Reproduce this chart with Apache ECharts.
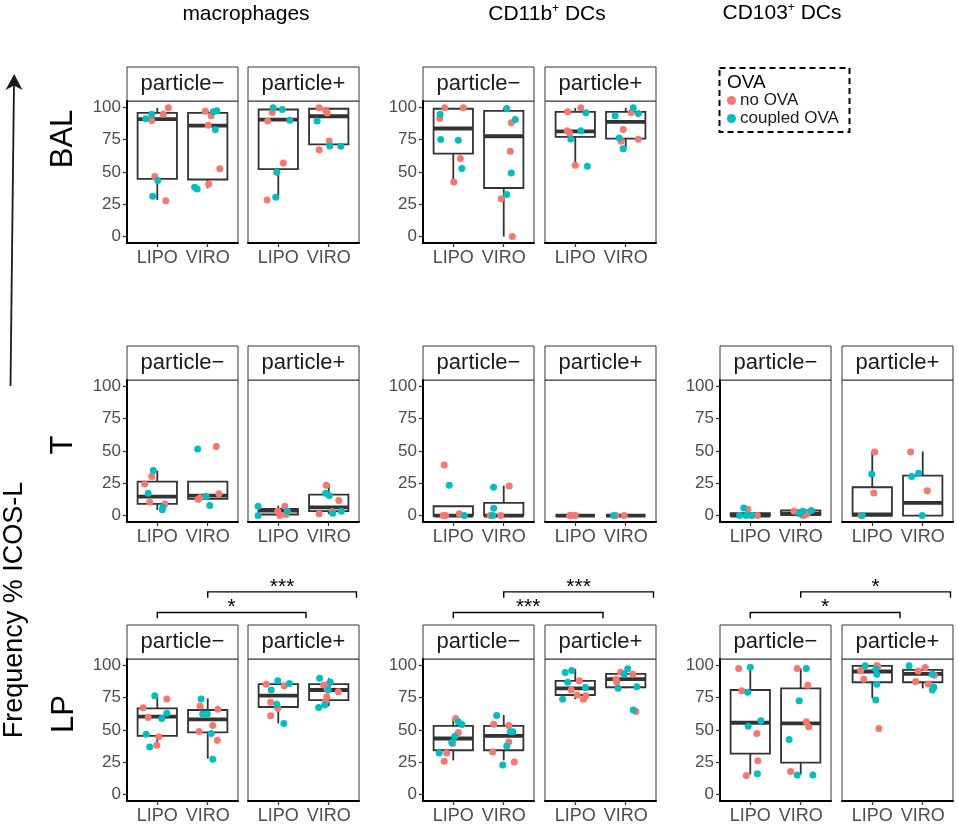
<!DOCTYPE html>
<html>
<head>
<meta charset="utf-8">
<script src="https://cdn.jsdelivr.net/npm/echarts@6/dist/echarts.min.js"></script>
<style>
  html, body { margin: 0; background: #fff; }
  #chart { width: 958px; height: 827px; }
</style>
</head>
<body>
<div id="chart"></div>
<script>
// categories / groups
const CATEGORIES = ['LIPO', 'VIRO'];
const GROUPS = ['no OVA', 'coupled OVA'];
const COLORS = ['#F8766D', '#00BFC4'];
const Y_TICKS = [0, 25, 50, 75, 100];
const STRIPS = ['particle\u2212', 'particle+'];
const ROW_LABELS = ['BAL', 'T', 'LP'];
const SIG_LABELS = [['*', '***'], ['***', '***'], ['*', '*']]; // [lower, upper] per cell type in LP

// box stats per category: [lower whisker, Q1, median, Q3, upper whisker]
// points: [x position (1 = LIPO, 2 = VIRO, jittered), value, group (0 no OVA, 1 coupled OVA)]
const BAL_MAC_NEG_BOX = [[28.3, 44.7, 91, 95.8, 99.7], [37.4, 44.2, 86, 95.8, 97.9]];
const BAL_MAC_NEG_PTS = [
  [0.77, 91.2, 1], [0.89, 94.8, 1], [0.89, 89.9, 0], [1.12, 94.8, 0], [1.22, 99.7, 0], [0.95, 46.5, 0], [1.01, 43.4, 1], [0.91, 31.2, 1], [1.17, 27.8, 0],
  [1.95, 97.1, 0], [2.11, 96.6, 1], [2.18, 97.4, 1], [2.07, 93.5, 0], [2.01, 86.2, 0], [2.15, 82.9, 1], [2.24, 52.5, 0], [2.02, 40.8, 0], [1.74, 38.2, 1], [1.79, 36.9, 1]
];
const BAL_MAC_POS_BOX = [[30.4, 52.2, 90.6, 98.4, 99.7], [71.4, 71.4, 93.2, 99, 99.7]];
const BAL_MAC_POS_PTS = [
  [0.9, 99.7, 1], [1.08, 98.4, 1], [0.88, 96.1, 0], [0.79, 89.6, 0], [1.23, 90.1, 1], [1.1, 56.9, 0], [0.97, 49.9, 1], [0.95, 30.4, 1], [0.78, 28.3, 0],
  [1.81, 99.7, 0], [1.94, 97.9, 0], [1.97, 95.8, 0], [1.77, 89.6, 1], [2.01, 74, 0], [1.81, 67.3, 0], [2.02, 70.1, 1], [2.24, 69.9, 1]
];
const BAL_CD11B_NEG_BOX = [[42.2, 64.2, 83.7, 99, 99.7], [0, 37.6, 77.7, 97.4, 99.7]];
const BAL_CD11B_NEG_PTS = [
  [0.83, 99.7, 0], [1.2, 99.7, 0], [0.74, 94.8, 1], [0.73, 91.5, 0], [0.75, 75.1, 1], [1.1, 74.6, 1], [1.14, 60.4, 0], [1.17, 52.8, 1], [1.01, 42.2, 0],
  [2.06, 99.2, 1], [2.23, 90.7, 1], [2.15, 88.1, 0], [2.13, 66.1, 0], [2.15, 49.2, 1], [2.06, 32.6, 1], [1.95, 29.3, 0], [2.17, 0, 0]
];
const BAL_CD11B_POS_BOX = [[55.2, 77.2, 81.5, 96.6, 99.7], [68.1, 75.9, 88.9, 96.6, 99.7]];
const BAL_CD11B_POS_PTS = [
  [1.11, 99.7, 0], [0.85, 96.6, 0], [1.21, 95.9, 1], [0.84, 81.9, 0], [0.89, 79.8, 0], [1.11, 81.9, 1], [0.91, 75.6, 1], [1.0, 55.2, 0], [1.24, 54.4, 1],
  [2.15, 99.7, 1], [2.11, 96.1, 0], [2.25, 95.3, 1], [1.79, 93.5, 1], [1.95, 82.9, 0], [1.87, 76.4, 1], [1.91, 73.8, 0], [2.25, 75.4, 0], [1.95, 68.1, 1]
];

const T_MAC_NEG_BOX = [[4.4, 9, 14.7, 26.3, 34.8], [12.9, 12.9, 15.5, 26.3, 26.3]];
const T_MAC_NEG_PTS = [
  [0.92, 34.8, 1], [0.89, 30.2, 0], [0.75, 24.5, 0], [0.82, 17.3, 1], [0.85, 10.3, 0], [1.15, 9, 0], [1.11, 6.4, 1], [1.1, 4.4, 1],
  [1.8, 51.5, 1], [2.17, 53.4, 0], [2.22, 16.8, 0], [1.97, 14.7, 1], [1.81, 12.6, 0], [1.85, 13.7, 0], [2.04, 7.7, 1]
];
const T_MAC_POS_BOX = [[0, 0.8, 3.9, 5.2, 7.7], [1.3, 3.4, 6.4, 16.2, 24.5]];
const T_MAC_POS_PTS = [
  [0.6, 7.2, 1], [0.99, 3.4, 0], [1.13, 7.2, 0], [1.18, 3.4, 1], [1.15, 0.8, 0], [0.6, 0, 1], [1.03, 0, 0],
  [1.95, 23.5, 0], [1.94, 17.3, 1], [2.01, 15.5, 1], [2.2, 11.6, 0], [2.07, 3.1, 0], [2.08, 1.8, 1], [1.81, 1.3, 0], [2.25, 3.4, 1]
];
const T_CD11B_NEG_BOX = [[0, 0, 0, 7.2, 7.2], [0, 0, 0, 9.8, 23.2]];
const T_CD11B_NEG_PTS = [
  [0.82, 39.2, 0], [0.92, 23.5, 1], [1.12, 1.3, 0], [0.8, 0, 0], [0.85, 0, 0], [1.22, 0, 1],
  [1.8, 21.9, 1], [2.11, 22.9, 0], [1.8, 5.7, 1], [1.78, 0, 1], [1.94, 0, 0], [1.73, 0, 0]
];
const T_CD11B_POS_BOX = [[0, 0, 0, 0, 0], [0, 0, 0, 0, 0]];
const T_CD11B_POS_PTS = [
  [0.93, 0, 0], [1.0, 0, 0], [0.89, 0, 0],
  [1.76, 0, 1], [1.81, 0, 0], [1.97, 0, 0]
];
const T_CD103_NEG_BOX = [[0, 0, 0, 1.8, 1.8], [0, 0.5, 1.3, 3.9, 3.9]];
const T_CD103_NEG_PTS = [
  [0.87, 5.9, 1], [0.95, 4.9, 0], [0.79, 0, 1], [0.92, 0, 1], [1.03, 0, 1], [1.14, 0, 0],
  [1.87, 3.4, 0], [2.04, 3.4, 1], [2.21, 3.9, 1], [1.98, 1.3, 1], [2.13, 1.3, 0], [2.04, 0, 0], [2.08, 0.5, 0]
];
const T_CD103_POS_BOX = [[0, 0, 0.8, 21.9, 50], [0, 0, 9.8, 30.9, 49.7]];
const T_CD103_POS_PTS = [
  [1.05, 49.2, 0], [0.99, 32.2, 1], [1.03, 17.5, 0], [0.78, 0, 0], [0.8, 0, 1],
  [1.76, 49.2, 0], [1.92, 32.7, 1], [1.78, 30.2, 1], [2.09, 19.3, 0], [1.99, 0, 1]
];

const LP_MAC_NEG_BOX = [[39.5, 45.5, 60.3, 66.8, 76.6], [27.8, 48.1, 58.2, 65.5, 74.5]];
const LP_MAC_NEG_PTS = [
  [0.95, 76.6, 1], [1.19, 74, 0], [0.72, 67.3, 0], [0.82, 59.7, 0], [1.19, 62.9, 1], [1.09, 59, 1], [0.78, 46.8, 1], [1.03, 44.7, 0], [0.99, 38.2, 0], [0.85, 36.9, 1],
  [1.87, 74, 1], [1.85, 68.6, 0], [1.9, 62.3, 1], [1.99, 62.3, 1], [2.2, 66, 0], [2.1, 53.5, 0], [1.83, 48.8, 0], [2.07, 47.3, 1], [2.19, 42.1, 0], [2.1, 27.3, 1]
];
const LP_MAC_POS_BOX = [[55.1, 67.8, 76.6, 85.5, 88.1], [68.6, 73.2, 81, 85.5, 90.1]];
const LP_MAC_POS_PTS = [
  [0.99, 88.1, 1], [0.76, 85.5, 0], [1.12, 84.2, 0], [1.22, 86, 1], [0.86, 81, 1], [0.85, 71.4, 0], [0.97, 69.9, 1], [0.99, 66.8, 0], [0.85, 61, 0], [1.11, 55.1, 1],
  [1.82, 90.1, 1], [1.9, 84.9, 0], [1.99, 85.5, 0], [2.03, 87, 1], [1.97, 81.8, 0], [1.99, 81, 1], [2.19, 79.7, 0], [1.96, 75.8, 0], [1.94, 72.5, 0], [1.8, 67.5, 1], [1.92, 69.4, 1]
];
const LP_CD11B_NEG_BOX = [[26.5, 34.3, 43.4, 53.2, 59], [26.5, 34.3, 45.5, 53.2, 61.6]];
const LP_CD11B_NEG_PTS = [
  [1.05, 59, 0], [1.1, 56.4, 1], [1.17, 54.3, 1], [1.1, 48.1, 0], [1.03, 45.2, 1], [0.99, 39.5, 0], [0.97, 40.3, 1], [0.72, 32.2, 1], [0.87, 32.2, 0], [0.82, 25.7, 0],
  [1.86, 61.3, 1], [1.8, 54.5, 0], [2.1, 53.5, 0], [2.13, 48.6, 1], [2.18, 48.6, 1], [2.1, 40.8, 0], [2.06, 37.7, 1], [1.78, 33, 0], [1.98, 22.9, 1], [2.21, 25.2, 0]
];
const LP_CD11B_POS_BOX = [[73.8, 77.1, 82.3, 88.1, 97.4], [82.3, 83.1, 89.4, 93.5, 98.4]];
const LP_CD11B_POS_PTS = [
  [0.8, 94.5, 1], [0.93, 96.1, 1], [0.85, 87, 1], [1.08, 88.1, 0], [0.92, 81, 0], [1.2, 82.9, 1], [1.04, 77.1, 0], [1.21, 76.6, 0], [1.16, 73.8, 0], [0.75, 73.8, 1],
  [2.04, 97.4, 1], [1.9, 94.8, 0], [2.14, 93.2, 0], [1.97, 93.2, 1], [1.81, 89.4, 0], [1.82, 87, 0], [1.85, 82.3, 1], [2.22, 83.6, 1], [2.15, 65.5, 1], [2.2, 64.4, 0]
];
const LP_CD103_NEG_BOX = [[15.6, 31.7, 55.6, 81, 99.2], [15.6, 24.7, 55.1, 82.3, 97.7]];
const LP_CD103_NEG_PTS = [
  [0.77, 97.7, 0], [1.0, 98.7, 1], [0.83, 80.5, 0], [0.95, 79.2, 1], [1.21, 57.1, 1], [0.96, 53, 1], [1.13, 47.3, 0], [1.15, 26.2, 0], [1.14, 16.1, 1], [0.92, 14.8, 0],
  [1.93, 97.7, 0], [2.11, 97.7, 1], [2.14, 84.7, 0], [1.97, 72.7, 1], [2.11, 56.4, 0], [2.16, 52.5, 0], [1.77, 42.6, 1], [1.8, 17.9, 0], [1.93, 15.1, 1], [2.24, 15.1, 1]
];
const LP_CD103_POS_BOX = [[74.5, 87, 95.3, 99.7, 99.7], [82.3, 87, 93.5, 96.6, 99.2]];
const LP_CD103_POS_PTS = [
  [0.86, 99.7, 1], [1.09, 100, 0], [1.11, 99.2, 0], [0.77, 96.1, 0], [1.07, 97.1, 1], [0.83, 89.4, 0], [1.09, 93.2, 1], [1.09, 85.5, 1], [1.07, 73.2, 1], [1.13, 51.2, 0],
  [1.73, 99.7, 1], [2.05, 98.4, 0], [1.91, 95.8, 0], [2.23, 92.5, 0], [1.86, 87.5, 0], [2.11, 85.7, 0], [2.22, 83.1, 1], [2.19, 81, 1], [2.19, 93.2, 1]
];

// [row, column, box stats, points]
const PANELS = [
  [0, 0, BAL_MAC_NEG_BOX, BAL_MAC_NEG_PTS], [0, 1, BAL_MAC_POS_BOX, BAL_MAC_POS_PTS],
  [0, 2, BAL_CD11B_NEG_BOX, BAL_CD11B_NEG_PTS], [0, 3, BAL_CD11B_POS_BOX, BAL_CD11B_POS_PTS],
  [1, 0, T_MAC_NEG_BOX, T_MAC_NEG_PTS], [1, 1, T_MAC_POS_BOX, T_MAC_POS_PTS],
  [1, 2, T_CD11B_NEG_BOX, T_CD11B_NEG_PTS], [1, 3, T_CD11B_POS_BOX, T_CD11B_POS_PTS],
  [1, 4, T_CD103_NEG_BOX, T_CD103_NEG_PTS], [1, 5, T_CD103_POS_BOX, T_CD103_POS_PTS],
  [2, 0, LP_MAC_NEG_BOX, LP_MAC_NEG_PTS], [2, 1, LP_MAC_POS_BOX, LP_MAC_POS_PTS],
  [2, 2, LP_CD11B_NEG_BOX, LP_CD11B_NEG_PTS], [2, 3, LP_CD11B_POS_BOX, LP_CD11B_POS_PTS],
  [2, 4, LP_CD103_NEG_BOX, LP_CD103_NEG_PTS], [2, 5, LP_CD103_POS_BOX, LP_CD103_POS_PTS]
];

// layout
const FONT = '"Liberation Sans", Arial, sans-serif';
const GRID_LEFT = [127, 248, 423, 545, 720, 842];
const GRID_TOP = [101, 380, 659];
const GRID_W = 111, GRID_H = 142, STRIP_H = 34;

const chart = echarts.init(document.getElementById('chart'));

function renderBox(params, api) {
  const x = api.value(0);
  const lo = api.coord([x, api.value(1)]);
  const q1 = api.coord([x, api.value(2)]);
  const med = api.coord([x, api.value(3)]);
  const q3 = api.coord([x, api.value(4)]);
  const hi = api.coord([x, api.value(5)]);
  const half = api.size([0.39, 0])[0];
  const stroke = '#333333';
  return {
    type: 'group',
    children: [
      { type: 'line', shape: { x1: hi[0], y1: hi[1], x2: q3[0], y2: q3[1] }, style: { stroke, lineWidth: 1.8 } },
      { type: 'line', shape: { x1: q1[0], y1: q1[1], x2: lo[0], y2: lo[1] }, style: { stroke, lineWidth: 1.8 } },
      { type: 'rect', shape: { x: q3[0] - half, y: q3[1], width: half * 2, height: q1[1] - q3[1] },
        style: { stroke, fill: '#fff', lineWidth: 1.8 } },
      { type: 'line', shape: { x1: med[0] - half, y1: med[1], x2: med[0] + half, y2: med[1] },
        style: { stroke, lineWidth: 3.8 } }
    ]
  };
}

const grids = [], xAxes = [], yAxes = [], series = [], graphics = [];
const tickLabel = { color: '#4D4D4D', fontFamily: FONT };

PANELS.forEach(([row, col, box, pts], i) => {
  const neg = col % 2 === 0;
  const left = GRID_LEFT[col], top = GRID_TOP[row];
  grids.push({ left, top, width: GRID_W, height: GRID_H, show: true, borderColor: '#333', borderWidth: 1 });
  xAxes.push({
    gridIndex: i, type: 'value', min: 0.4, max: 2.6,
    axisLine: { onZero: false, lineStyle: { color: '#000', width: 2 } },
    axisTick: { customValues: [1, 2], length: 4, lineStyle: { color: '#333', width: 1.2 } },
    axisLabel: { ...tickLabel, fontSize: 18, margin: 6, customValues: [1, 2], formatter: v => CATEGORIES[Math.round(v) - 1] },
    splitLine: { show: false }
  });
  yAxes.push({
    gridIndex: i, type: 'value', min: -5, max: 105,
    axisLine: { show: neg, onZero: false, lineStyle: { color: '#000', width: 2 } },
    axisTick: { show: neg, customValues: Y_TICKS, length: 4, lineStyle: { color: '#333', width: 1.2 } },
    axisLabel: { show: neg, ...tickLabel, fontSize: 17, margin: 6, customValues: Y_TICKS },
    splitLine: { show: false }
  });
  series.push({
    type: 'custom', xAxisIndex: i, yAxisIndex: i, z: 2,
    renderItem: renderBox,
    encode: { x: 0, y: [1, 2, 3, 4, 5] },
    data: box.map((b, k) => [k + 1, ...b])
  });
  GROUPS.forEach((g, gi) => {
    series.push({
      type: 'scatter', name: g, xAxisIndex: i, yAxisIndex: i, z: 3,
      symbolSize: 7, itemStyle: { color: COLORS[gi], opacity: 1 },
      data: pts.filter(p => p[2] === gi).map(p => [p[0], p[1]])
    });
  });
  // facet strip
  graphics.push({
    type: 'rect', shape: { x: left, y: top - STRIP_H, width: GRID_W, height: STRIP_H },
    style: { fill: '#fff', stroke: '#333', lineWidth: 1 }
  });
  graphics.push({
    type: 'text', x: left + GRID_W / 2, y: top - STRIP_H / 2,
    style: { text: STRIPS[neg ? 0 : 1], fontSize: 22, fontFamily: FONT, fill: '#1A1A1A', textAlign: 'center', textVerticalAlign: 'middle' }
  });
});

// column headers
const headRich = {
  a: { fontSize: 21, fontFamily: FONT, fill: '#000' },
  s: { fontSize: 12, fontFamily: FONT, fill: '#000', verticalAlign: 'top', lineHeight: 22 }
};
[['macrophages', 246, 14], ['{a|CD11b}{s|+}{a| DCs}', 547, 14], ['{a|CD103}{s|+}{a| DCs}', 782, 13]].forEach(([t, x, y]) => {
  graphics.push({
    type: 'text', x, y,
    style: { text: t.startsWith('{') ? t : '{a|' + t + '}', rich: headRich, textAlign: 'center', textVerticalAlign: 'middle' }
  });
});

// row labels and axis title
[[ROW_LABELS[0], 63.5, 139], [ROW_LABELS[1], 63.5, 445], [ROW_LABELS[2], 64.5, 714]].forEach(([t, x, y]) => {
  graphics.push({
    type: 'text', x, y, rotation: Math.PI / 2,
    style: { text: t, fontSize: 31, fontFamily: FONT, fill: '#000', textAlign: 'center', textVerticalAlign: 'middle' }
  });
});
graphics.push({
  type: 'text', x: 15, y: 610, rotation: Math.PI / 2,
  style: { text: 'Frequency % ICOS-L', fontSize: 27, fontFamily: FONT, fill: '#000', textAlign: 'center', textVerticalAlign: 'middle' }
});
// arrow
graphics.push({ type: 'line', shape: { x1: 10.5, y1: 386, x2: 14, y2: 82 }, style: { stroke: '#1A1A1A', lineWidth: 1.8 } });
graphics.push({ type: 'polygon', shape: { points: [[14.2, 74], [22.5, 90], [14, 85.5], [5.5, 90]] }, style: { fill: '#1A1A1A' } });

// legend frame and title
graphics.push({
  type: 'rect', shape: { x: 719.5, y: 68, width: 130, height: 64 },
  style: { fill: 'none', stroke: '#000', lineWidth: 2, lineDash: [6, 4] }
});
graphics.push({
  type: 'text', x: 727, y: 83,
  style: { text: 'OVA', fontSize: 19, fontFamily: FONT, fill: '#000', textAlign: 'left', textVerticalAlign: 'middle' }
});

chart.setOption({
  animation: false,
  backgroundColor: '#fff',
  grid: grids,
  xAxis: xAxes,
  yAxis: yAxes,
  series,
  legend: {
    data: GROUPS, orient: 'vertical', left: 722, top: 87, padding: 5,
    icon: 'circle', itemWidth: 9, itemHeight: 9, itemGap: 1, selectedMode: false,
    textStyle: { fontSize: 17, fontFamily: FONT, color: '#1A1A1A', padding: [0, 0, 0, -1] }
  },
  graphic: graphics
});

// significance brackets above the LP row, placed through the panels' own scales
const brackets = [];
[0, 1, 2].forEach(c => {
  const gNeg = 10 + c * 2, gPos = gNeg + 1;
  [[1, 1.55, 141, SIG_LABELS[c][0]], [2, 2.55, 157, SIG_LABELS[c][1]]].forEach(([xa, xb, yb, lab]) => {
    const a = chart.convertToPixel({ gridIndex: gNeg }, [xa, yb]);
    const aTip = chart.convertToPixel({ gridIndex: gNeg }, [xa, yb - 4.5]);
    const b = chart.convertToPixel({ gridIndex: gPos }, [xb, yb]);
    const s = chart.convertToPixel({ gridIndex: gNeg }, [xa, yb + 4]);
    brackets.push({
      type: 'polyline', shape: { points: [[a[0], aTip[1]], a, b, [b[0], aTip[1]]] },
      style: { stroke: '#000', lineWidth: 1.4, fill: 'none' }
    });
    brackets.push({
      type: 'text', x: (a[0] + b[0]) / 2, y: s[1],
      style: { text: lab, fontSize: 21, fontFamily: FONT, fill: '#000', textAlign: 'center', textVerticalAlign: 'middle' }
    });
  });
});
chart.setOption({ graphic: graphics.concat(brackets) });
</script>
</body>
</html>
